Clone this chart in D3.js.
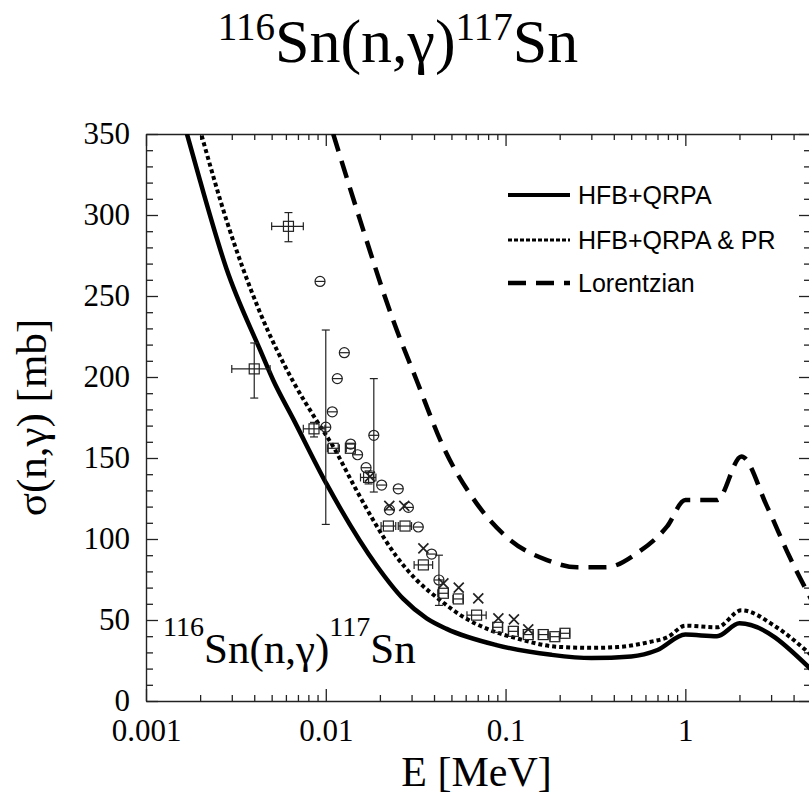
<!DOCTYPE html>
<html>
<head>
<meta charset="utf-8">
<script src="https://cdn.jsdelivr.net/npm/d3@7"></script>
<style>
  body { margin: 0; background: #fff; }
  svg { display: block; }
</style>
</head>
<body>
<svg id="chart" width="809" height="796"></svg>
<script>
// ---- Model curves: neutron energy (MeV) and capture cross section (mb) ----
const hfbE     = [0.00169, 0.002, 0.0028, 0.0043, 0.0051, 0.0066, 0.0101, 0.0192, 0.027, 0.0364, 0.047, 0.089, 0.18, 0.3, 0.5, 0.7, 1.0, 1.5, 2.0, 5.0];
const hfbSigma = [350, 321, 267, 217, 198, 174, 134, 83.5, 63, 51, 44.5, 34.5, 28.5, 26.5, 27.5, 31.5, 41, 40, 48, 19.5];

const prE      = [0.00204, 0.0028, 0.0043, 0.0066, 0.0089, 0.011, 0.0145, 0.0192, 0.0248, 0.032, 0.0432, 0.058, 0.082, 0.115, 0.192, 0.3, 0.42, 0.63, 0.8, 1.0, 1.5, 2.05, 3.2, 5.0];
const prSigma  = [349, 297, 240, 197, 173, 157, 132, 108, 89, 74.7, 62.3, 52, 43.8, 38.7, 33.5, 32.8, 33.3, 36.4, 39.5, 46.5, 45.5, 56, 45.7, 28.5];

const lorE     = [0.011, 0.0155, 0.0237, 0.032, 0.045, 0.069, 0.106, 0.17, 0.25, 0.36, 0.55, 0.79, 1.0, 1.5, 2.05, 2.85, 3.8, 5.0];
const lorSigma = [350, 297, 235, 198, 157, 122, 99.4, 87, 82.5, 82.5, 92, 107.6, 124, 124, 151, 120, 89, 63];

// ---- Measurements: open squares with energy (and some sigma) error bars ----
const sqE      = [0.0040, 0.0062, 0.0086, 0.0110, 0.0137, 0.0173, 0.0223, 0.0276, 0.0349, 0.0451, 0.0546, 0.069, 0.0904, 0.1105, 0.1337, 0.162, 0.188, 0.214];
const sqSigma  = [205, 293, 168, 156, 156, 138, 108, 108, 84, 66.5, 63, 53, 45.5, 43, 41, 41, 39.7, 41.8];
const sqELo    = [0.0030, 0.0050, 0.0075, 0.0102, 0.0130, 0.0156, 0.0203, 0.0253, 0.0310, 0.0420, 0.0510, 0.0610, 0.0850, 0.1040, 0.1260, 0.1530, 0.1770, 0.2020];
const sqEHi    = [0.0049, 0.0075, 0.0099, 0.0119, 0.0145, 0.0190, 0.0245, 0.0300, 0.0393, 0.0480, 0.0580, 0.0780, 0.0960, 0.1170, 0.1420, 0.1720, 0.1990, 0.2270];
const sqSLo    = [187, 283.5, 163, 156, 156, 134, 108, 108, 84, 66.5, 63, 53, 45.5, 43, 41, 41, 39.7, 41.8];
const sqSHi    = [221, 301.5, 172, 156, 156, 142, 108, 108, 84, 66.5, 63, 53, 45.5, 43, 41, 41, 39.7, 41.8];

// ---- Measurements: open circles ----
const ciE      = [0.00929, 0.0100, 0.01087, 0.01159, 0.01268, 0.01375, 0.01503, 0.01675, 0.0185, 0.02046, 0.0226, 0.0253, 0.0288, 0.0327, 0.0388, 0.0426];
const ciSigma  = [259, 169, 178.5, 199, 215, 158.6, 152, 144, 164, 133.3, 118, 131, 119.5, 107.4, 90.7, 74.7];
const ciSLo    = [259, 109, 178.5, 199, 215, 158.6, 152, 144, 129, 133.3, 118, 131, 119.5, 107.4, 90.7, 59];
const ciSHi    = [259, 229, 178.5, 199, 215, 158.6, 152, 144, 199, 133.3, 118, 131, 119.5, 107.4, 90.7, 90];

// ---- Measurements: crosses ----
const crE      = [0.0176, 0.02256, 0.02733, 0.0349, 0.0451, 0.0549, 0.0705, 0.0912, 0.1113, 0.1337];
const crSigma  = [138.5, 120.4, 120.4, 94.2, 72.6, 70, 63.4, 51, 50.4, 44.2];

// ---- Axis ticks ----
const xTickValues = [0.001, 0.01, 0.1, 1];
const xTickLabels = ["0.001", "0.01", "0.1", "1"];
const yTickValues = [0, 50, 100, 150, 200, 250, 300, 350];

const legendLabels = ["HFB+QRPA", "HFB+QRPA & PR", "Lorentzian"];

// ---------------------------------------------------------------------------
const svg = d3.select("#chart");
const SERIF = "'Liberation Serif', 'Times New Roman', serif";
const SANS = "'Liberation Sans', Arial, sans-serif";

const x = d3.scaleLog().domain([0.001, 5]).range([146, 811]);
const y = d3.scaleLinear().domain([0, 350]).range([701, 134]);
const [xL, xR] = x.range();
const [yB, yT] = y.range();

svg.append("defs").append("clipPath").attr("id", "plotClip")
  .append("rect").attr("x", xL).attr("y", yT).attr("width", xR - xL).attr("height", yB - yT);

// minor tick values
const xMinor = [];
for (let dec = 0.001; dec < 5; dec *= 10) {
  for (let k = 2; k <= 9; k++) {
    const v = +(dec * k).toPrecision(3);
    if (v <= 5) xMinor.push(v);
  }
}
const yMinor = d3.range(0, 351, 10).filter(v => v % 50 !== 0);

function styleAxis(g) {
  g.selectAll("path.domain").attr("stroke", "#222").attr("stroke-width", 1.4);
  g.selectAll(".tick line").attr("stroke", "#222").attr("stroke-width", 1.3);
}

// bottom axis
const gB = svg.append("g").attr("transform", `translate(0,${yB})`)
  .call(d3.axisBottom(x).tickValues(xTickValues).tickSizeInner(-12).tickSizeOuter(0)
    .tickPadding(18).tickFormat((d, i) => xTickLabels[i]));
gB.selectAll("text").attr("font-family", SERIF).attr("font-size", 31).attr("fill", "#000");
styleAxis(gB);
const gBm = svg.append("g").attr("transform", `translate(0,${yB})`)
  .call(d3.axisBottom(x).tickValues(xMinor).tickSizeInner(-6).tickSizeOuter(0).tickFormat(""));
gBm.select("path.domain").remove();
styleAxis(gBm);

// top axis
const gT = svg.append("g").attr("transform", `translate(0,${yT})`)
  .call(d3.axisTop(x).tickValues(xTickValues).tickSizeInner(-12).tickSizeOuter(0).tickFormat(""));
styleAxis(gT);
const gTm = svg.append("g").attr("transform", `translate(0,${yT})`)
  .call(d3.axisTop(x).tickValues(xMinor).tickSizeInner(-6).tickSizeOuter(0).tickFormat(""));
gTm.select("path.domain").remove();
styleAxis(gTm);

// left axis
const gL = svg.append("g").attr("transform", `translate(${xL},0)`)
  .call(d3.axisLeft(y).tickValues(yTickValues).tickSizeInner(-12).tickSizeOuter(0).tickPadding(16));
gL.selectAll("text").attr("font-family", SERIF).attr("font-size", 31).attr("fill", "#000");
styleAxis(gL);
const gLm = svg.append("g").attr("transform", `translate(${xL},0)`)
  .call(d3.axisLeft(y).tickValues(yMinor).tickSizeInner(-7).tickSizeOuter(0).tickFormat(""));
gLm.select("path.domain").remove();
styleAxis(gLm);

// right axis
const gR = svg.append("g").attr("transform", `translate(${xR},0)`)
  .call(d3.axisRight(y).tickValues(yTickValues).tickSizeInner(-12).tickSizeOuter(0).tickFormat(""));
styleAxis(gR);
const gRm = svg.append("g").attr("transform", `translate(${xR},0)`)
  .call(d3.axisRight(y).tickValues(yMinor).tickSizeInner(-7).tickSizeOuter(0).tickFormat(""));
gRm.select("path.domain").remove();
styleAxis(gRm);

// ---- model curves ----
const line = d3.line().x(d => x(d[0])).y(d => y(d[1])).curve(d3.curveMonotoneX);
const curves = svg.append("g").attr("clip-path", "url(#plotClip)");
curves.append("path").datum(d3.zip(hfbE, hfbSigma)).attr("d", line)
  .attr("fill", "none").attr("stroke", "#000").attr("stroke-width", 4.5);
curves.append("path").datum(d3.zip(prE, prSigma)).attr("d", line)
  .attr("fill", "none").attr("stroke", "#000").attr("stroke-width", 4)
  .attr("stroke-dasharray", "4,3");
curves.append("path").datum(d3.zip(lorE, lorSigma)).attr("d", line)
  .attr("fill", "none").attr("stroke", "#000").attr("stroke-width", 4.5)
  .attr("stroke-dasharray", "18,10");

// ---- measurements ----
const pts = svg.append("g").attr("fill", "none").attr("stroke", "#222").attr("stroke-width", 1.2);
const cap = 4;

function errBarX(g, lo, hi, s) {
  if (hi <= lo) return;
  const yy = y(s);
  g.append("line").attr("x1", x(lo)).attr("x2", x(hi)).attr("y1", yy).attr("y2", yy);
  g.append("line").attr("x1", x(lo)).attr("x2", x(lo)).attr("y1", yy - cap).attr("y2", yy + cap);
  g.append("line").attr("x1", x(hi)).attr("x2", x(hi)).attr("y1", yy - cap).attr("y2", yy + cap);
}
function errBarY(g, e, lo, hi) {
  if (hi <= lo) return;
  const xx = x(e);
  g.append("line").attr("x1", xx).attr("x2", xx).attr("y1", y(lo)).attr("y2", y(hi));
  g.append("line").attr("x1", xx - cap).attr("x2", xx + cap).attr("y1", y(lo)).attr("y2", y(lo));
  g.append("line").attr("x1", xx - cap).attr("x2", xx + cap).attr("y1", y(hi)).attr("y2", y(hi));
}

// squares
sqE.forEach((e, i) => {
  const g = pts.append("g");
  errBarX(g, sqELo[i], sqEHi[i], sqSigma[i]);
  errBarY(g, e, sqSLo[i], sqSHi[i]);
  g.append("rect").attr("x", x(e) - 5).attr("y", y(sqSigma[i]) - 5)
    .attr("width", 10).attr("height", 10);
});

// circles
ciE.forEach((e, i) => {
  const g = pts.append("g");
  errBarY(g, e, ciSLo[i], ciSHi[i]);
  const cx = x(e), cy = y(ciSigma[i]);
  g.append("circle").attr("cx", cx).attr("cy", cy).attr("r", 5);
  g.append("line").attr("x1", cx - 5).attr("x2", cx + 5).attr("y1", cy).attr("y2", cy);
});

// crosses
crE.forEach((e, i) => {
  const cx = x(e), cy = y(crSigma[i]), h = 5;
  pts.append("path")
    .attr("d", `M${cx - h},${cy - h}L${cx + h},${cy + h}M${cx - h},${cy + h}L${cx + h},${cy - h}`)
    .attr("stroke-width", 1.7);
});

// ---- legend ----
const legY = [195, 240, 283];
const legStyles = [
  { w: 4, dash: null },
  { w: 3, dash: "4,2" },
  { w: 4.5, dash: "18,10" }
];
const leg = svg.append("g");
legendLabels.forEach((lab, i) => {
  const s = legStyles[i];
  leg.append("line").attr("x1", 508).attr("x2", 570).attr("y1", legY[i]).attr("y2", legY[i])
    .attr("stroke", "#000").attr("stroke-width", s.w)
    .attr("stroke-dasharray", s.dash);
  leg.append("text").attr("x", 578).attr("y", legY[i] + 9)
    .attr("font-family", SANS).attr("font-size", 25).attr("fill", "#000").text(lab);
});

// ---- reaction labels ----
function reaction(sel, xPos, yPos, big, small, rise, anchor) {
  const t = sel.append("text").attr("x", xPos).attr("y", yPos)
    .attr("font-family", SERIF).attr("fill", "#000").attr("text-anchor", anchor);
  t.append("tspan").attr("font-size", small).attr("dy", -rise).text("116");
  t.append("tspan").attr("font-size", big).attr("dy", rise).text("Sn(n,γ)");
  t.append("tspan").attr("font-size", small).attr("dy", -rise).text("117");
  t.append("tspan").attr("font-size", big).attr("dy", rise).text("Sn");
}
reaction(svg, 398, 62, 62, 39, 22, "middle");
reaction(svg, 163, 663, 43, 28, 27, "start");

// ---- axis titles ----
svg.append("text").attr("x", (xL + xR) / 2 - 2).attr("y", 786)
  .attr("text-anchor", "middle").attr("font-family", SERIF).attr("font-size", 42)
  .attr("fill", "#000").text("E [MeV]");
svg.append("text").attr("transform", `translate(46,${(yT + yB) / 2}) rotate(-90)`)
  .attr("text-anchor", "middle").attr("font-family", SERIF).attr("font-size", 43)
  .attr("fill", "#000").text("σ(n,γ) [mb]");
</script>
</body>
</html>
